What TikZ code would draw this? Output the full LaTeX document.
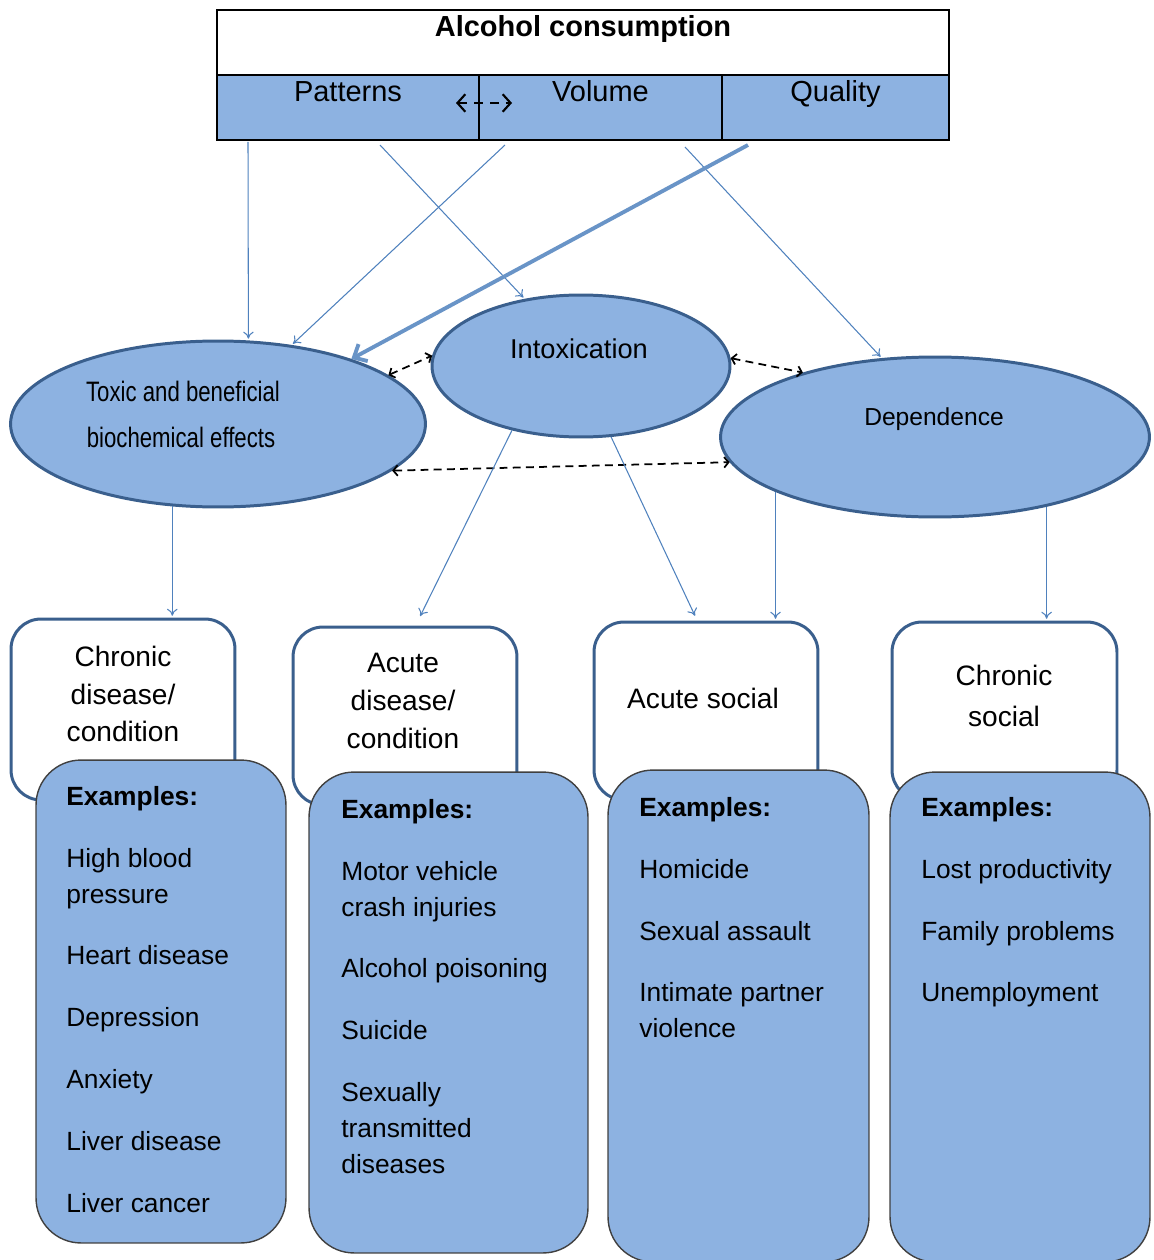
\documentclass[tikz,border=0pt]{standalone}
\usepackage{fontspec}
\setmainfont{Liberation Sans}
\usetikzlibrary{shapes.geometric,arrows.meta}
\definecolor{cellblue}{HTML}{8DB2E1}
\definecolor{rimblue}{HTML}{3A5F8D}
\definecolor{linkblue}{HTML}{4F81BD}
\definecolor{boxrim}{HTML}{404040}
\newcommand{\narrowtxt}[1]{\scalebox{0.79}[1]{#1}}

\begin{document}
\begin{tikzpicture}[x=0.02cm, y=-0.02cm,
  cell/.style={draw, line width=1.1pt, inner sep=0pt, text height=15.3pt, text depth=21.6pt, font=\fontsize{16.5}{19}\selectfont},
  blob/.style={ellipse, draw=rimblue, line width=1.7pt, fill=cellblue, inner sep=0pt},
  outcome/.style={rectangle, rounded corners=0.6cm, draw=rimblue, line width=1.7pt, fill=white, inner sep=0pt},
  examples/.style={rectangle, rounded corners=0.9cm, draw=boxrim, line width=0.8pt, fill=cellblue, inner sep=0pt},
  outtext/.style={align=center, font=\fontsize{16}{21.5}\selectfont},
  listtext/.style={align=left, anchor=north west, inner sep=0pt, font=\fontsize{15}{20.4}\selectfont},
  link/.style={draw=linkblue, line width=0.6pt, shorten >=1pt, -{To[length=4pt,width=6pt]}},
  biglink/.style={draw=linkblue!85, line width=2.2pt, -{Straight Barb[length=6pt,width=11pt]}},
  mutual/.style={black, line width=1pt, dash pattern=on 4.5pt off 3pt, {Straight Barb[length=2.5pt,width=6pt]}-{Straight Barb[length=2.5pt,width=6pt]}},
  cellmutual/.style={black, line width=1.2pt, dash pattern=on 5pt off 4pt, {Straight Barb[length=4.5pt,width=10pt]}-{Straight Barb[length=4.5pt,width=10pt]}}
]
\useasboundingbox (0,0) rectangle (1153,1260);

% alcohol consumption table
\node[cell, fill=white, minimum width=14.64cm, font=\fontsize{16.5}{19}\selectfont\bfseries] (alc) at (583,42.5) {Alcohol consumption};
\node[cell, fill=cellblue, minimum width=5.24cm] (pat) at (348,107.5) {Patterns};
\node[cell, fill=cellblue, minimum width=4.86cm] (vol) at (600.5,107.5) {Volume};
\node[cell, fill=cellblue, minimum width=4.54cm] (qual) at (835.5,107.5) {Quality};
\coordinate (dl) at (456,103);
\coordinate (dr) at (512,103);
\draw[cellmutual] (dl) -- (dr);

% start points under the table
\coordinate (pa) at (248,142);
\coordinate (pb) at (380,145);
\coordinate (pc) at (505,145);
\coordinate (pd) at (748,145);
\coordinate (pe) at (685,147);

% white outcome boxes
\node[outcome, minimum width=4.48cm, minimum height=3.62cm] (cd) at (123,709.5) {};
\node[outcome, minimum width=4.48cm, minimum height=3.56cm] (ad) at (405,716) {};
\node[outcome, minimum width=4.48cm, minimum height=3.56cm] (as) at (706,711) {};
\node[outcome, minimum width=4.5cm, minimum height=3.56cm] (cs) at (1004.5,711) {};
\node[outtext] (cdt) at (123,694) {Chronic\\disease/\\condition};
\node[outtext] (adt) at (403,701) {Acute\\disease/\\condition};
\node[outtext] (ast) at (703,698) {Acute social};
\node[outtext, font=\fontsize{16}{23}\selectfont] (cst) at (1004,696) {Chronic\\social};

% examples
\node[examples, minimum width=5cm, minimum height=9.66cm] (b1) at (161,1001.5) {};
\node[examples, minimum width=5.58cm, minimum height=9.62cm] (b2) at (448.5,1012.5) {};
\node[examples, minimum width=5.22cm, minimum height=9.84cm] (b3) at (738.5,1016) {};
\node[examples, minimum width=5.2cm, minimum height=9.8cm] (b4) at (1020,1017) {};
\node[listtext] (l1) at (66,786) {\textbf{Examples:}\\[14.8pt]High blood\\pressure\\[14.8pt]Heart disease\\[14.8pt]Depression\\[14.8pt]Anxiety\\[14.8pt]Liver disease\\[14.8pt]Liver cancer};
\node[listtext] (l2) at (341,799) {\textbf{Examples:}\\[14.8pt]Motor vehicle\\crash injuries\\[14.8pt]Alcohol poisoning\\[14.8pt]Suicide\\[14.8pt]Sexually\\transmitted\\diseases};
\node[listtext] (l3) at (639,797) {\textbf{Examples:}\\[14.8pt]Homicide\\[14.8pt]Sexual assault\\[14.8pt]Intimate partner\\violence};
\node[listtext] (l4) at (921,797) {\textbf{Examples:}\\[14.8pt]Lost productivity\\[14.8pt]Family problems\\[14.8pt]Unemployment};

% effects
\node[blob, minimum width=8.3cm, minimum height=3.32cm] (tox) at (218,424) {};
\node[blob, minimum width=5.96cm, minimum height=2.84cm] (intox) at (581,366) {};
\node[blob, minimum width=8.58cm, minimum height=3.2cm] (dep) at (935,437) {};
\node[font=\fontsize{16}{19}\selectfont] (toxa) at (183,391) {\narrowtxt{Toxic and beneficial}};
\node[font=\fontsize{16}{19}\selectfont] (toxb) at (181,437) {\narrowtxt{biochemical effects}};
\node[font=\fontsize{15.5}{18}\selectfont] (intoxt) at (579,349) {Intoxication};
\node[font=\fontsize{14}{17}\selectfont] (dept) at (934,419) {Dependence};

% links from the table
\draw[link] (pa) -- (tox.70);
\draw[link] (pc) -- (tox.47);
\draw[link] (pb) -- (intox.130);
\draw[link] (pe) -- (dep.124);
\draw[biglink] (pd) -- (tox.26);

% links between effects
\draw[mutual] (tox.16) -- (intox.176);
\draw[mutual] (intox.3) -- (dep.154);
\draw[mutual] (tox.-15) -- (dep.187);

% links to outcomes
\draw[link] (tox.241) -- (tox.241 |- cd.north);
\draw[link, shorten >=6pt] (intox.223) -- ([xshift=6pt]ad.north);
\draw[link, shorten >=3pt] (intox.293) -- ([xshift=-5pt]as.north);
\draw[link] (dep.199) -- (dep.199 |- as.north);
\draw[link] (dep.328) -- (dep.328 |- cs.north);
\end{tikzpicture}
\end{document}
